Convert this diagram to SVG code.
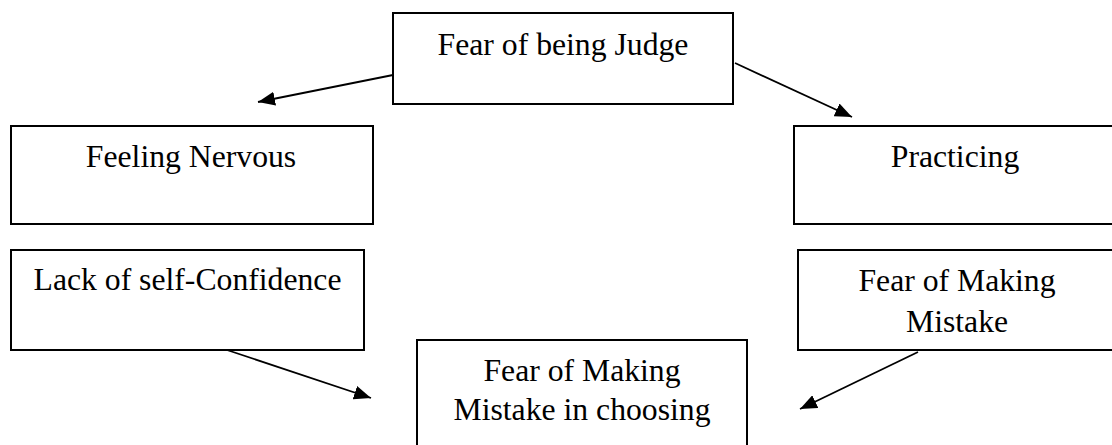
<svg xmlns="http://www.w3.org/2000/svg" width="1112" height="445" viewBox="0 0 1112 445">
  <style>
    .box { fill: #ffffff; stroke: #000000; stroke-width: 2; }
    .lbl { font-family: "Liberation Serif", "Times New Roman", "DejaVu Serif", serif; font-size: 31.7px; fill: #000000; text-anchor: middle; }
    .conn { stroke: #000000; stroke-width: 1.8; fill: none; marker-end: url(#arrow); }
  </style>
  <defs>
    <marker id="arrow" viewBox="0 0 17 14" refX="17" refY="7" markerWidth="17" markerHeight="14" markerUnits="userSpaceOnUse" orient="auto">
      <path d="M0,0 L17,7 L0,14 Z" fill="#000000"/>
    </marker>
  </defs>
  <rect width="1112" height="445" fill="#ffffff"/>

  <g id="node-judge">
    <rect class="box" x="393" y="13" width="340" height="91"/>
    <text class="lbl" x="563" y="55">Fear of being Judge</text>
  </g>
  <g id="node-nervous">
    <rect class="box" x="11" y="126" width="362" height="98"/>
    <text class="lbl" x="191" y="167">Feeling Nervous</text>
  </g>
  <g id="node-practicing">
    <rect class="box" x="794" y="126" width="330" height="98"/>
    <text class="lbl" x="955" y="167">Practicing</text>
  </g>
  <g id="node-confidence">
    <rect class="box" x="11" y="250" width="353" height="100"/>
    <text class="lbl" x="187.5" y="290">Lack of self-Confidence</text>
  </g>
  <g id="node-mistake">
    <rect class="box" x="798" y="250" width="326" height="100"/>
    <text class="lbl" x="957" y="291">Fear of Making</text>
    <text class="lbl" x="957" y="332">Mistake</text>
  </g>
  <g id="node-choosing">
    <rect class="box" x="417" y="340" width="330" height="120"/>
    <text class="lbl" x="582" y="381">Fear of Making</text>
    <text class="lbl" x="582" y="420">Mistake in choosing</text>
  </g>

  <g id="connectors">
    <line class="conn" x1="393" y1="75" x2="258" y2="102"/>
    <line class="conn" x1="735" y1="63" x2="852" y2="117"/>
    <line class="conn" x1="227" y1="350" x2="371" y2="398"/>
    <line class="conn" x1="918" y1="352" x2="800" y2="409"/>
  </g>
</svg>
